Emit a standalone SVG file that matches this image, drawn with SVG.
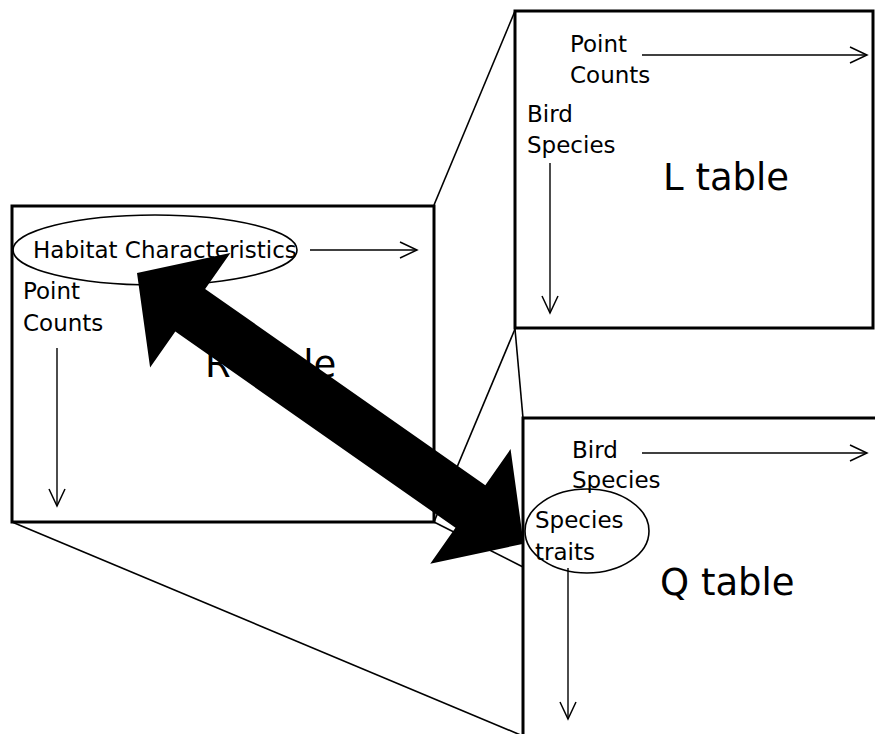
<svg xmlns="http://www.w3.org/2000/svg" width="875" height="734" viewBox="0 0 875 734">
  <style>
    .tbl { fill: #ffffff; stroke: #000000; stroke-width: 3; }
    .proj { fill: none; stroke: #000000; stroke-width: 1.6; }
    .axis { fill: none; stroke: #000000; stroke-width: 1.4; marker-end: url(#vhead); }
    .oval { fill: none; stroke: #000000; stroke-width: 1.6; }
    .lbl { font-family: "DejaVu Sans", Verdana, sans-serif; font-size: 23px; fill: #000000; }
    .title { font-family: "DejaVu Sans", Verdana, sans-serif; font-size: 37px; fill: #000000; }
  </style>
  <defs>
    <marker id="vhead" markerUnits="userSpaceOnUse" markerWidth="20" markerHeight="20" viewBox="0 0 20 20" refX="18" refY="10" orient="auto">
      <path d="M1,2 L18,10 L1,18" fill="none" stroke="#000000" stroke-width="1.5"/>
    </marker>
  </defs>

  <rect x="0" y="0" width="875" height="734" fill="#ffffff"/>

  <!-- projection lines linking the tables -->
  <g id="projection">
    <line class="proj" x1="434" y1="205" x2="515" y2="11"/>
    <line class="proj" x1="434" y1="522" x2="515" y2="329"/>
    <line class="proj" x1="515" y1="329" x2="523" y2="418"/>
    <line class="proj" x1="434" y1="522" x2="523" y2="567"/>
    <line class="proj" x1="12" y1="522" x2="523" y2="736"/>
  </g>

  <!-- R table: habitat characteristics by point counts -->
  <g id="r-table">
    <rect class="tbl" x="12" y="206" width="422" height="316"/>
    <text class="title" x="205" y="377">R table</text>
    <ellipse class="oval" cx="155" cy="250" rx="142" ry="35"/>
    <text class="lbl" x="33" y="258">Habitat Characteristics</text>
    <line class="axis" x1="310" y1="250" x2="417" y2="250"/>
    <text class="lbl" x="23" y="299">Point</text>
    <text class="lbl" x="23" y="331">Counts</text>
    <line class="axis" x1="57" y1="348" x2="57" y2="506"/>
  </g>

  <!-- L table: bird species by point counts -->
  <g id="l-table">
    <rect class="tbl" x="515" y="11" width="358" height="317"/>
    <text class="title" x="663" y="190">L table</text>
    <text class="lbl" x="570" y="52">Point</text>
    <text class="lbl" x="570" y="83">Counts</text>
    <line class="axis" x1="642" y1="55" x2="867" y2="55"/>
    <text class="lbl" x="527" y="122">Bird</text>
    <text class="lbl" x="527" y="153">Species</text>
    <line class="axis" x1="550" y1="163" x2="550" y2="313"/>
  </g>

  <!-- double-headed block arrow between habitat characteristics and species traits -->
  <g id="connectors">
    <polygon fill="#000000" transform="translate(137,273) rotate(35)"
      points="0,0 65,-70 65,-26 407,-26 407,-70 472,0 407,70 407,26 65,26 65,70"/>
  </g>

  <!-- Q table: species traits by bird species -->
  <g id="q-table">
    <rect class="tbl" x="523" y="418" width="360" height="330"/>
    <text class="title" x="660" y="595">Q table</text>
    <text class="lbl" x="572" y="458">Bird</text>
    <text class="lbl" x="572" y="488">Species</text>
    <line class="axis" x1="642" y1="453" x2="867" y2="453"/>
    <ellipse class="oval" cx="587" cy="531" rx="62" ry="42"/>
    <text class="lbl" x="535" y="528">Species</text>
    <text class="lbl" x="535" y="560">traits</text>
    <line class="axis" x1="568" y1="568" x2="568" y2="719"/>
  </g>
</svg>
